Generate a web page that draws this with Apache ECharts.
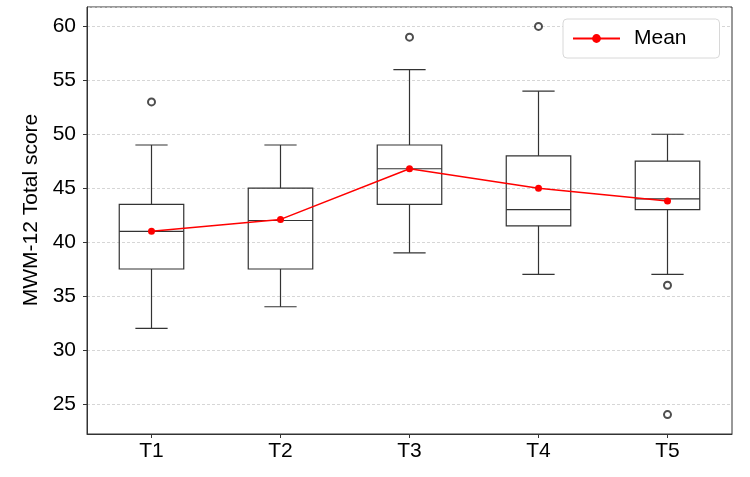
<!DOCTYPE html>
<html>
<head>
<meta charset="utf-8">
<script src="https://cdn.jsdelivr.net/npm/echarts@6/dist/echarts.min.js"></script>
<style>
  html, body { margin: 0; padding: 0; background: #fff; }
  #chart { width: 750px; height: 477px; }
</style>
</head>
<body>
<div id="chart"></div>
<script>
// values
const categories = ['T1', 'T2', 'T3', 'T4', 'T5']
const whiskerLow = [32, 34, 39, 37, 37]
const quartile1 = [37.5, 37.5, 43.5, 41.5, 43]
const medians = [41, 42, 46.8, 43, 44]
const quartile3 = [43.5, 45, 49, 48, 47.5]
const whiskerHigh = [49, 49, 56, 54, 50]
const means = [41, 42.1, 46.8, 45, 43.8]
const outliers = [[0, 53], [2, 59], [3, 60], [4, 36], [4, 24]]

const FONT = 'Liberation Sans, Arial, sans-serif'
const INK = '#333'

const boxData = categories.map((c, i) => [i, whiskerLow[i], quartile1[i], medians[i], quartile3[i], whiskerHigh[i]])

// box + whiskers, caps are half as wide as the box
function renderBox (params, api) {
  let i = api.value(0)
  let band = api.size([1, 0])[0]
  let boxW = band * 0.5
  let capW = band * 0.25
  let low = api.coord([i, api.value(1)])
  let b1 = api.coord([i, api.value(2)])
  let med = api.coord([i, api.value(3)])
  let b3 = api.coord([i, api.value(4)])
  let high = api.coord([i, api.value(5)])
  let cx = low[0]
  let style = { stroke: INK, lineWidth: 1.2, fill: null }
  let line = (x1, y1, x2, y2) => ({ type: 'line', shape: { x1, y1, x2, y2 }, style })
  return {
    type: 'group',
    children: [
      { type: 'rect', shape: { x: cx - boxW / 2, y: b3[1], width: boxW, height: b1[1] - b3[1] }, style },
      line(cx - boxW / 2, med[1], cx + boxW / 2, med[1]),
      line(cx, b1[1], cx, low[1]),
      line(cx, b3[1], cx, high[1]),
      line(cx - capW / 2, low[1], cx + capW / 2, low[1]),
      line(cx - capW / 2, high[1], cx + capW / 2, high[1])
    ]
  }
}

let chart = echarts.init(document.getElementById('chart'))
chart.setOption({
  animation: false,
  textStyle: { fontFamily: FONT },
  grid: {
    left: 87,
    right: 18,
    top: 7,
    bottom: 43,
    show: true,
    borderColor: INK,
    borderWidth: 1
  },
  legend: {
    data: ['Mean'],
    left: 563,
    top: 19,
    padding: [9, 33, 9, 9],
    itemWidth: 47,
    itemHeight: 11,
    borderColor: '#d8d8d8',
    borderWidth: 1,
    borderRadius: 4,
    backgroundColor: '#fff',
    textStyle: { fontSize: 21, color: '#000', fontFamily: FONT, padding: [0, 0, 0, 9] }
  },
  xAxis: {
    type: 'category',
    data: categories,
    boundaryGap: true,
    axisLine: { show: true, lineStyle: { color: INK } },
    axisTick: { show: true, alignWithLabel: true, length: 4, lineStyle: { color: INK } },
    axisLabel: { fontSize: 21, color: '#000', margin: 7 },
    splitLine: { show: false }
  },
  yAxis: {
    type: 'value',
    min: 22.2,
    max: 61.8,
    splitNumber: 8,
    name: 'MWM-12 Total score',
    nameLocation: 'middle',
    nameGap: 37,
    nameTextStyle: { fontSize: 21, color: '#000', fontFamily: FONT, padding: [0, 0, 0, 21] },
    axisLine: { show: true, lineStyle: { color: INK } },
    axisTick: { show: true, length: 4, lineStyle: { color: INK } },
    axisLabel: { fontSize: 21, color: '#000', margin: 11, showMinLabel: false, showMaxLabel: false },
    splitLine: { show: true, lineStyle: { color: '#cccccc', type: [3, 2], width: 0.8 } }
  },
  series: [
    {
      type: 'custom',
      name: 'box',
      renderItem: renderBox,
      data: boxData,
      encode: { x: 0, y: [1, 2, 3, 4, 5] },
      z: 2
    },
    {
      type: 'scatter',
      name: 'outliers',
      data: outliers,
      symbol: 'emptyCircle',
      symbolSize: 7,
      itemStyle: { color: '#222', borderWidth: 0.8 },
      z: 3
    },
    {
      type: 'line',
      name: 'Mean',
      data: means,
      symbol: 'circle',
      symbolSize: 7,
      itemStyle: { color: '#ff0000' },
      lineStyle: { color: '#ff0000', width: 1.5 },
      z: 5
    }
  ]
})
</script>
</body>
</html>
